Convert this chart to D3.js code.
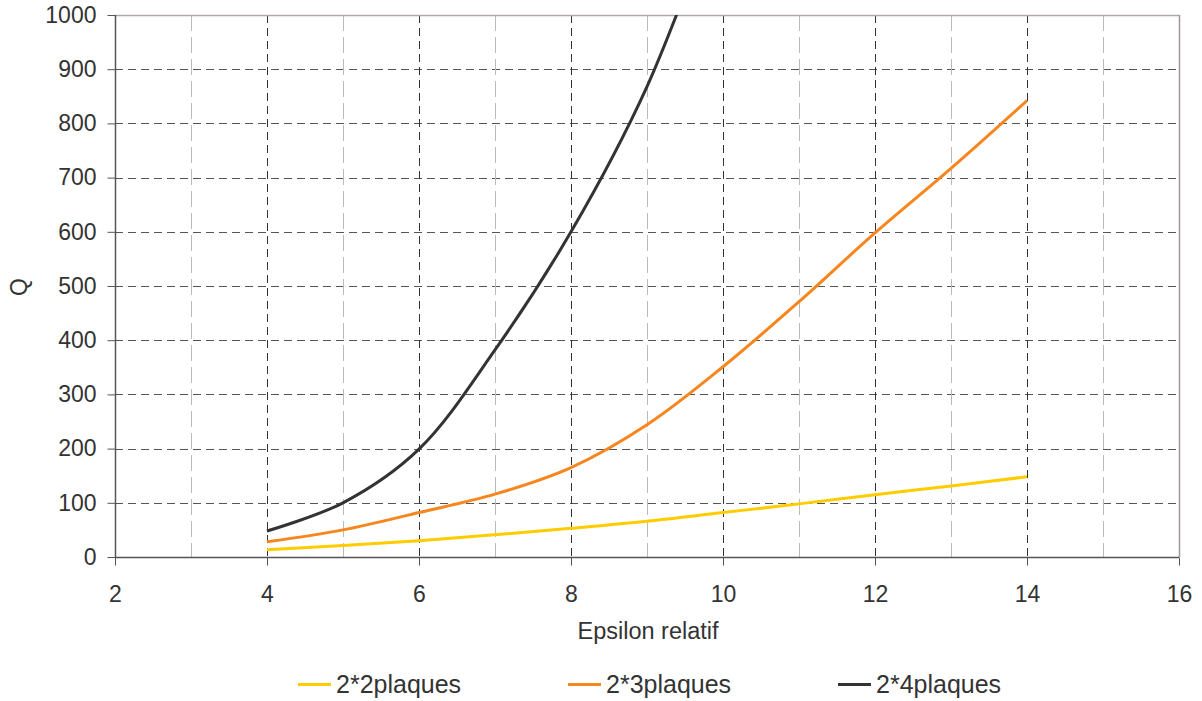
<!DOCTYPE html>
<html>
<head>
<meta charset="utf-8">
<script src="https://cdn.jsdelivr.net/npm/d3@7/dist/d3.min.js"></script>
<style>
  body { margin: 0; background: #fff; }
  svg { display: block; }
  text { font-family: "Liberation Sans", Arial, Helvetica, sans-serif; fill: #333; }
</style>
</head>
<body>
<svg id="chart" width="1202" height="701"></svg>
<script>
// Q as a function of relative epsilon, for three plate configurations
const epsilon = [4, 5, 6, 7, 8, 9, 10, 11, 12, 13, 14];
const plaques2x2 = [13.5, 21, 30, 41, 53, 66, 82, 98, 115, 131, 148];
const plaques2x3 = [28, 50, 82, 116, 165, 244, 351, 471, 598, 717, 842];
const plaques2x4 = [48, 100, 199, 382, 600, 868, 1230];

const seriesNames = ["2*2plaques", "2*3plaques", "2*4plaques"];
const seriesColors = ["#FFCC00", "#F7861E", "#333333"];
const seriesValues = [plaques2x2, plaques2x3, plaques2x4];

const xTicks = [2, 4, 6, 8, 10, 12, 14, 16];
const xMinorTicks = [3, 5, 7, 9, 11, 13, 15];
const yTicks = [0, 100, 200, 300, 400, 500, 600, 700, 800, 900, 1000];

const margin = { left: 115, top: 15, right: 1179, bottom: 557 };
const svg = d3.select("#chart");

const x = d3.scaleLinear().domain([2, 16]).range([margin.left, margin.right]);
const y = d3.scaleLinear().domain([0, 1000]).range([margin.bottom, margin.top]);

// clip region for the plot
svg.append("defs").append("clipPath").attr("id", "plot-clip")
  .append("rect")
  .attr("x", margin.left).attr("y", margin.top)
  .attr("width", margin.right - margin.left).attr("height", margin.bottom - margin.top);

// horizontal grid
svg.append("g").selectAll("line").data(yTicks.slice(1, -1)).join("line")
  .attr("x1", margin.left).attr("x2", margin.right)
  .attr("y1", d => Math.round(y(d)) + 0.5).attr("y2", d => Math.round(y(d)) + 0.5)
  .attr("stroke", "#555").attr("stroke-width", 1)
  .attr("stroke-dasharray", "8,5");

// minor vertical grid (odd values)
svg.append("g").selectAll("line").data(xMinorTicks).join("line")
  .attr("x1", d => Math.round(x(d)) + 0.5).attr("x2", d => Math.round(x(d)) + 0.5)
  .attr("y1", margin.top).attr("y2", margin.bottom)
  .attr("stroke", "#bbb").attr("stroke-width", 1)
  .attr("stroke-dasharray", "16,6");

// major vertical grid (even values)
svg.append("g").selectAll("line").data(xTicks.slice(1, -1)).join("line")
  .attr("x1", d => Math.round(x(d)) + 0.5).attr("x2", d => Math.round(x(d)) + 0.5)
  .attr("y1", margin.top).attr("y2", margin.bottom)
  .attr("stroke", "#333").attr("stroke-width", 1)
  .attr("stroke-dasharray", "8,5");

// frame: top and right borders
svg.append("line")
  .attr("x1", margin.left).attr("x2", margin.right)
  .attr("y1", margin.top + 0.5).attr("y2", margin.top + 0.5)
  .attr("stroke", "#b0a8a8").attr("stroke-width", 1.5);
svg.append("line")
  .attr("x1", margin.right + 0.5).attr("x2", margin.right + 0.5)
  .attr("y1", margin.top).attr("y2", margin.bottom)
  .attr("stroke", "#a09898").attr("stroke-width", 1.5);

// series
const line = d3.line()
  .x((d, i) => x(epsilon[i]))
  .y(d => y(d))
  .curve(d3.curveCatmullRom.alpha(0.5));

svg.append("g").attr("clip-path", "url(#plot-clip)")
  .selectAll("path").data(seriesValues).join("path")
  .attr("d", d => line(d))
  .attr("fill", "none")
  .attr("stroke", (d, i) => seriesColors[i])
  .attr("stroke-width", 3)
  .attr("stroke-linejoin", "round");

// axes
const xAxis = d3.axisBottom(x).tickValues(xTicks).tickSize(8).tickPadding(20).tickFormat(d3.format("d"));
const yAxis = d3.axisLeft(y).tickValues(yTicks).tickSize(8).tickPadding(11).tickFormat(d3.format("d"));

const gx = svg.append("g").attr("transform", `translate(0,${margin.bottom + 0.5})`).call(xAxis);
const gy = svg.append("g").attr("transform", `translate(${margin.left + 0.5},0)`).call(yAxis);

[gx, gy].forEach(g => {
  g.select(".domain").attr("stroke", "#555").attr("stroke-width", 1.5);
  g.selectAll(".tick line").attr("stroke", "#555");
  g.selectAll(".tick text").attr("font-size", 23).style("fill", "#333");
});
gx.select(".domain").attr("d", `M${margin.left},0H${margin.right}`);
gy.select(".domain").attr("d", `M0,${margin.bottom}V${margin.top}`);

// axis titles
svg.append("text")
  .attr("x", 648).attr("y", 639)
  .attr("text-anchor", "middle").attr("font-size", 23.5)
  .text("Epsilon relatif");

svg.append("text")
  .attr("transform", "translate(27,287) rotate(-90)")
  .attr("text-anchor", "middle").attr("font-size", 23)
  .text("Q");

// legend
const legendX = [298, 568, 838];
const legend = svg.append("g").selectAll("g").data(seriesNames).join("g")
  .attr("transform", (d, i) => `translate(${legendX[i]},684.5)`);
legend.append("line")
  .attr("x1", 0).attr("x2", 33).attr("y1", 0).attr("y2", 0)
  .attr("stroke", (d, i) => seriesColors[i]).attr("stroke-width", 3);
legend.append("text")
  .attr("x", 38).attr("y", 8.5).attr("font-size", 25)
  .text(d => d);
</script>
</body>
</html>
